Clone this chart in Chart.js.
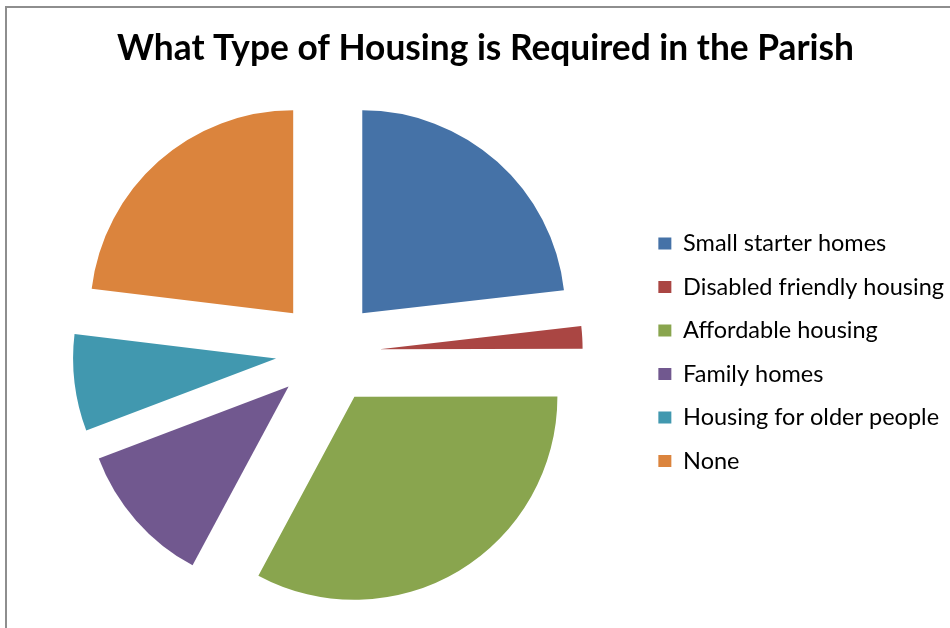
<!DOCTYPE html>
<html>
<head>
<meta charset="utf-8">
<script src="https://cdn.jsdelivr.net/npm/chart.js@4/dist/chart.umd.min.js"></script>
<style>
  html, body { margin: 0; padding: 0; background: #fff; }
  #frame { position: absolute; left: 5px; top: 6px; width: 960px; height: 640px; border-left: 2px solid #8e8e8e; border-top: 2px solid #8e8e8e; }
  #wrap { position: absolute; left: 0; top: 0; width: 950px; height: 628px; }
</style>
</head>
<body>
<div id="frame"></div>
<div id="wrap"><canvas id="chart" width="950" height="628"></canvas></div>
<script>
const categories = ["Small starter homes", "Disabled friendly housing", "Affordable housing", "Family homes", "Housing for older people", "None"];
const shares = [23.2, 1.8, 32.9, 11.4, 7.7, 23.1];
const sliceColors = ["#4572A7", "#AA4643", "#89A54E", "#71588F", "#4198AF", "#DB843D"];
const chartTitle = "What Type of Housing is Required in the Parish";

// the built-in offset shrinks and narrows small slices, so pull the slices
// out from the centre ourselves after chart.js has laid them out
const explode = {
  id: "explode",
  afterDatasetsUpdate(chart, args, opts) {
    chart.getDatasetMeta(0).data.forEach((arc) => {
      const mid = (arc.startAngle + arc.endAngle) / 2;
      arc.x += Math.cos(mid) * opts.distance;
      arc.y += Math.sin(mid) * opts.distance;
    });
  },
};

const ctx = document.getElementById("chart").getContext("2d");

new Chart(ctx, {
  type: "pie",
  data: {
    labels: categories,
    datasets: [
      {
        data: shares,
        backgroundColor: sliceColors,
        borderWidth: 0,
      },
    ],
  },
  options: {
    responsive: false,
    animation: false,
    radius: 203,
    layout: {
      padding: { left: 17, right: -4, top: 6, bottom: 3 },
    },
    plugins: {
      explode: { distance: 52 },
      title: {
        display: true,
        text: chartTitle,
        color: "#000",
        font: { family: "Lato", size: 35.3, weight: "bold" },
        padding: { top: 21, bottom: 10 },
      },
      legend: {
        position: "right",
        fullSize: false,
        labels: {
          color: "#000",
          font: { family: "Lato", size: 23.5 },
          boxWidth: 13,
          boxHeight: 12,
          padding: 20,
        },
      },
      tooltip: { enabled: false },
    },
  },
  plugins: [explode],
});
</script>
</body>
</html>
